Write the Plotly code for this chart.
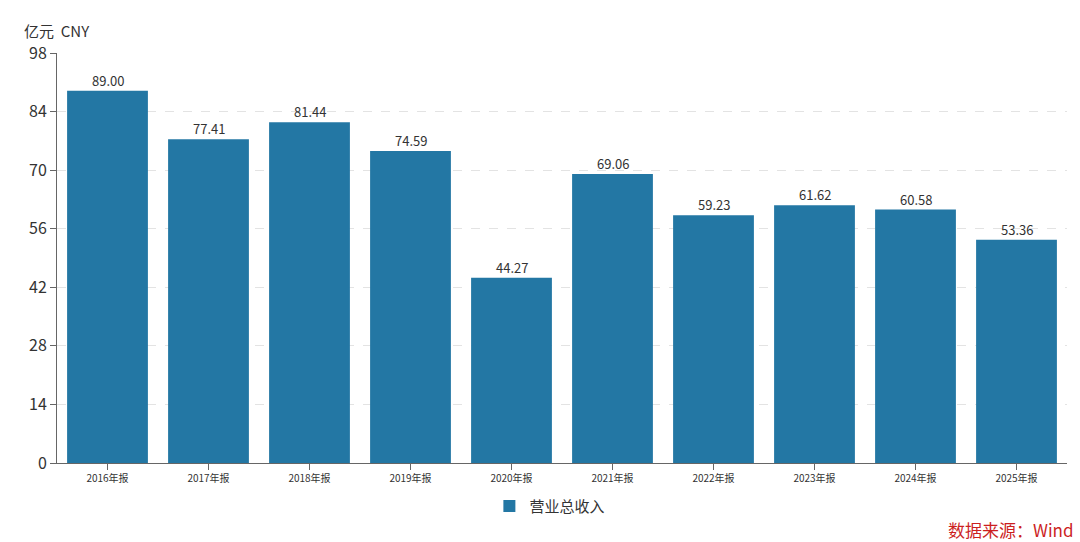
import plotly.graph_objects as go

categories = ["2016年报", "2017年报", "2018年报", "2019年报", "2020年报",
              "2021年报", "2022年报", "2023年报", "2024年报", "2025年报"]
revenue = [89.00, 77.41, 81.44, 74.59, 44.27, 69.06, 59.23, 61.62, 60.58, 53.36]
y_ticks = [0, 14, 28, 42, 56, 70, 84, 98]
series_name = "营业总收入"

FONT = "Noto Sans CJK SC, Microsoft YaHei, sans-serif"
BAR = "#2377a4"

fig = go.Figure()
fig.add_trace(go.Bar(
    x=categories, y=revenue, name=series_name,
    marker=dict(color=BAR, line=dict(width=0)),
))

for c, v in zip(categories, revenue):
    fig.add_annotation(x=c, y=v, text=f"{v:.2f}", showarrow=False,
                       xanchor="center", yanchor="bottom", yshift=-1,
                       font=dict(size=13, color="#333333", family=FONT))

fig.update_layout(
    width=1080, height=542,
    margin=dict(l=57, r=13, t=53, b=79),
    paper_bgcolor="white", plot_bgcolor="white",
    bargap=0.2,
    font=dict(family=FONT, color="#333333"),
    showlegend=True,
    legend=dict(orientation="h", x=0.488, xanchor="center", y=-0.065, yanchor="top",
                font=dict(size=15, color="#333333", family=FONT)),
    xaxis=dict(
        showline=True, linecolor="#666666", linewidth=1,
        ticks="outside", ticklen=6, tickcolor="#666666",
        tickfont=dict(size=10, color="#333333", family=FONT),
        showgrid=False,
    ),
    yaxis=dict(
        range=[0, 98], tickvals=y_ticks,
        showline=True, linecolor="#666666", linewidth=1,
        ticks="outside", ticklen=6, tickcolor="#666666",
        tickfont=dict(size=16, color="#333333", family=FONT),
        showgrid=True, gridcolor="#e3e3e3", griddash="dash", gridwidth=1,
        zeroline=False,
    ),
)

fig.add_annotation(text="亿元  CNY", xref="paper", yref="paper", x=-0.035, y=1.0,
                   xanchor="left", yanchor="bottom", yshift=10, showarrow=False,
                   font=dict(size=15, color="#333333", family=FONT))
fig.add_annotation(text="数据来源：Wind", xref="paper", yref="paper", x=1.0, y=0,
                   xanchor="right", yanchor="top", yshift=-52, xshift=9, showarrow=False,
                   font=dict(size=17, color="#cc1f1f", family=FONT))

fig.write_html("out.html")
